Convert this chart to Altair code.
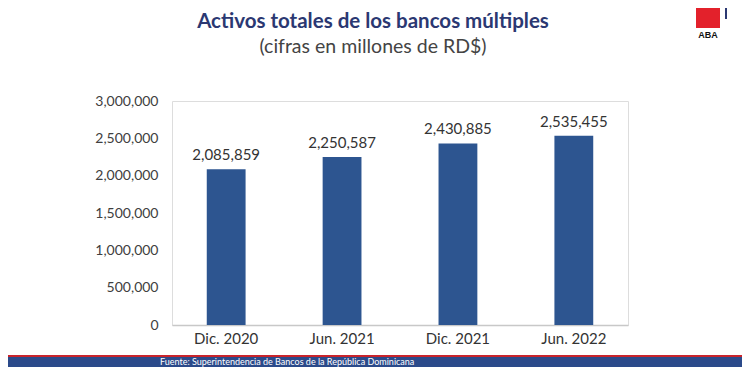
import altair as alt
import pandas as pd

categories = ["Dic. 2020", "Jun. 2021", "Dic. 2021", "Jun. 2022"]
values = [2085859, 2250587, 2430885, 2535455]
y_ticks = [0, 500000, 1000000, 1500000, 2000000, 2500000, 3000000]
title_text = "Activos totales de los bancos múltiples"
subtitle_text = "(cifras en millones de RD$)"
logo_text = "ABA"
source_text = "Fuente: Superintendencia de Bancos de la República Dominicana"

df = pd.DataFrame({"periodo": categories, "valor": values})
one = pd.DataFrame({"k": [0]})

BAR = "#2d5590"
NAVY = "#2b3872"

x_enc = alt.X("periodo:N", sort=categories, title=None,
              scale=alt.Scale(paddingInner=0.665, paddingOuter=0.3),
              axis=alt.Axis(labelAngle=0, labelFont="Lato", labelFontSize=15,
                            labelColor="#333333", labelPadding=6, ticks=False,
                            domainColor="#c8c8c8", domainWidth=1.5))
y_enc = alt.Y("valor:Q", title=None,
              scale=alt.Scale(domain=[0, 3000000]),
              axis=alt.Axis(values=y_ticks, format=",d", grid=False, domain=False,
                            ticks=False, labelPadding=14, labelFont="Lato",
                            labelFontSize=14, labelColor="#404040",
                            labelOverlap=False))

bars = alt.Chart(df).mark_bar(color=BAR).encode(x=x_enc, y=y_enc)
labels = alt.Chart(df).mark_text(baseline="bottom", dy=-6, font="Lato",
                                 fontSize=15, color="#333333").encode(
    x=x_enc, y=y_enc,
    text=alt.Text("valor:Q", format=",d"))

title = alt.Chart(pd.DataFrame({"t": [title_text]})).mark_text(
    font="Lato", fontSize=20.5, fontWeight="bold", color=NAVY, align="center",
    baseline="alphabetic").encode(x=alt.value(201), y=alt.value(-73), text="t:N")
subtitle = alt.Chart(pd.DataFrame({"t": [subtitle_text]})).mark_text(
    font="Lato", fontSize=19.5, color="#444444", align="center",
    baseline="alphabetic").encode(x=alt.value(201), y=alt.value(-48), text="t:N")

logo_red = alt.Chart(one).mark_rect(color="#e3212b").encode(
    x=alt.value(524), x2=alt.value(548), y=alt.value(-95), y2=alt.value(-73))
logo_blue = alt.Chart(one).mark_rect(color="#2b3872").encode(
    x=alt.value(553), x2=alt.value(555), y=alt.value(-101), y2=alt.value(-82))
logo_txt = alt.Chart(pd.DataFrame({"t": [logo_text]})).mark_text(
    font="Liberation Sans", fontSize=9, fontWeight="bold", color="#111111",
    align="center", baseline="alphabetic").encode(
    x=alt.value(536), y=alt.value(-63), text="t:N")

foot_red = alt.Chart(one).mark_rect(color="#c8242c").encode(
    x=alt.value(-172), x2=alt.value(578), y=alt.value(254), y2=alt.value(256))
foot_blue = alt.Chart(one).mark_rect(color="#2b4a8a").encode(
    x=alt.value(-172), x2=alt.value(578), y=alt.value(256), y2=alt.value(270))
foot_txt = alt.Chart(pd.DataFrame({"t": [source_text]})).mark_text(
    font="Lato", fontSize=9, color="#ffffff", align="left",
    baseline="middle").encode(x=alt.value(-12), y=alt.value(261), text="t:N")

chart = alt.layer(bars, labels, title, subtitle, logo_red, logo_blue, logo_txt,
                  foot_red, foot_blue, foot_txt).properties(
    width=456, height=224,
    autosize=alt.AutoSizeParams(type="none"),
    padding={"left": 164, "top": 93, "right": 114, "bottom": 42},
).configure_view(stroke=None).configure(background="#ffffff")

chart.save("out.html", embed_options={"renderer": "svg", "actions": False})
